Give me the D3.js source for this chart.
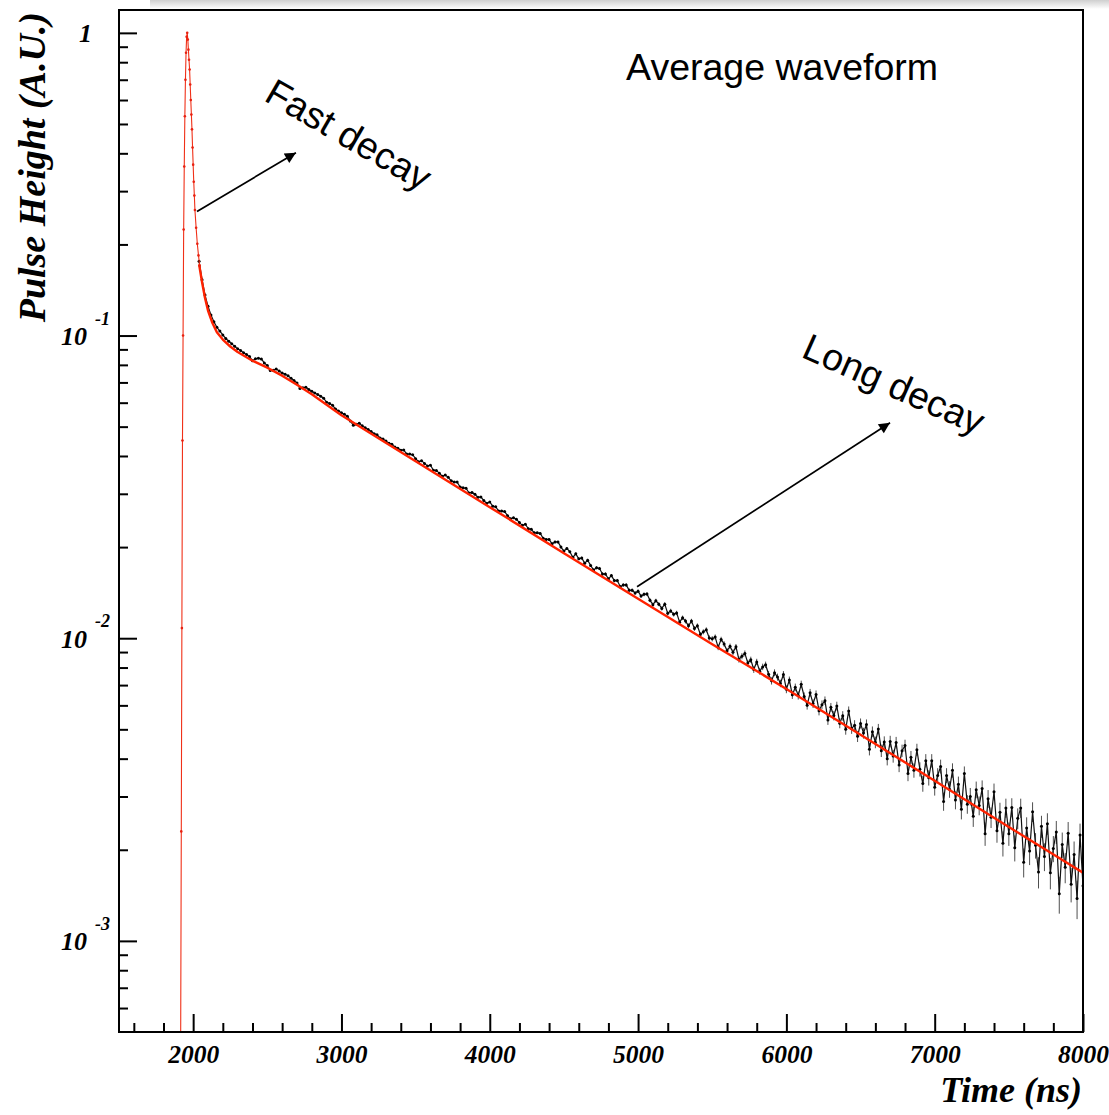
<!DOCTYPE html>
<html>
<head>
<meta charset="utf-8">
<script src="https://cdn.jsdelivr.net/npm/d3@7"></script>
<style>
  html, body { margin: 0; padding: 0; background: #fff; }
  svg { display: block; }
  .root-font { font-family: "Liberation Serif", "Times New Roman", serif; font-weight: bold; font-style: italic; }
  .note { font-family: "Liberation Sans", Arial, sans-serif; }
</style>
</head>
<body>
<div id="viz"></div>
<script>
const WIDTH = 1109;
const HEIGHT = 1115;
const MARGIN = { top: 10, right: 26, bottom: 83, left: 119 };

// axis ranges and ticks
const X_DOMAIN = [1500, 8000];
const Y_DOMAIN = [5e-4, 1.19];
const xMajorTicks = [2000, 3000, 4000, 5000, 6000, 7000, 8000];
const yMajorTicks = [1e-3, 1e-2, 1e-1, 1];
const yTickBases = ['10', '10', '10', '1'];
const yTickExps = ['-3', '-2', '-1', ''];

// rising edge and peak (thin red line with markers)
const peakTimes = [1500, 1916, 1920, 1924, 1928, 1932, 1936, 1940, 1944, 1948, 1952, 1956, 1960,
  1964, 1968, 1972, 1976, 1980, 1984, 1988, 1992, 1996, 2000, 2004, 2008, 2012, 2020, 2028, 2036, 2044];
const peakValues = [0, 0, 0.0023, 0.0108, 0.045, 0.1, 0.224, 0.362, 0.53, 0.70, 0.86, 0.97, 1.0,
  0.95, 0.88, 0.815, 0.757, 0.675, 0.60, 0.537, 0.48, 0.418, 0.367, 0.322, 0.29, 0.26, 0.227, 0.201, 0.184, 0.17];

// averaged waveform samples, 20 ns apart starting at 2040 ns
const dataStart = 2040;
const dataStep = 20;
const dataError = 0.0002; // half height of the error bars
const dataValues = [
  0.176, 0.153, 0.136, 0.125, 0.117, 0.111, 0.1065, 0.1035,
  0.1005, 0.0978, 0.0958, 0.0940, 0.0921, 0.0905, 0.0892, 0.0878, 0.0866, 0.0852,
  0.0826, 0.0838, 0.0842, 0.0836, 0.0812, 0.0796, 0.0766, 0.0768, 0.0775, 0.0764,
  0.0752, 0.0745, 0.0736, 0.0722, 0.0710, 0.0697, 0.0668, 0.0672, 0.0675, 0.0663,
  0.0654, 0.0646, 0.0639, 0.0630, 0.0621, 0.0602, 0.0596, 0.0588, 0.0572, 0.0563,
  0.0556, 0.0549, 0.0541, 0.0522, 0.0505, 0.0509, 0.0513, 0.0503, 0.0496, 0.0489,
  0.0482, 0.0474, 0.0470, 0.0459, 0.0455, 0.0448, 0.0441, 0.0437, 0.0428, 0.0424,
  0.0418, 0.0419, 0.0406, 0.0406, 0.0404, 0.0392, 0.0383, 0.0386, 0.0378, 0.0371,
  0.0373, 0.0359, 0.0358, 0.0351, 0.0343, 0.0346, 0.0340, 0.0331, 0.0328, 0.0328,
  0.0316, 0.0314, 0.0313, 0.0302, 0.0303, 0.0299, 0.0292, 0.0293, 0.0285, 0.0279,
  0.0282, 0.0273, 0.0272, 0.0263, 0.0263, 0.0262, 0.0254, 0.0248, 0.0250, 0.0247,
  0.0241, 0.0236, 0.0238, 0.0230, 0.0229, 0.0223, 0.0223, 0.0222, 0.0214, 0.0212,
  0.0212, 0.0205, 0.0208, 0.0208, 0.0200, 0.0194, 0.0198, 0.0193, 0.0185, 0.0190,
  0.0183, 0.0184, 0.0177, 0.0181, 0.0174, 0.0168, 0.0171, 0.0170, 0.0163, 0.0163,
  0.0157, 0.0161, 0.0155, 0.0155, 0.0148, 0.0150, 0.0150, 0.0144, 0.0144, 0.0141,
  0.0143, 0.01378, 0.01396, 0.01401, 0.01336, 0.01291, 0.0133, 0.01296, 0.01254, 0.01296,
  0.01208, 0.01231, 0.01199, 0.01212, 0.0113, 0.01168, 0.01139, 0.01099, 0.01139, 0.01077,
  0.01099, 0.01029, 0.0105, 0.01066, 0.01002, 0.00996, 0.01009, 0.00933, 0.00991, 0.00957,
  0.00909, 0.0094, 0.00898, 0.00937, 0.00851, 0.00872, 0.00891, 0.00828, 0.00849, 0.00788,
  0.00835, 0.00778, 0.00804, 0.00817, 0.0076, 0.00723, 0.00769, 0.00744, 0.00709, 0.00759,
  0.00678, 0.00727, 0.0065, 0.00688, 0.00647, 0.00704, 0.00642, 0.00601, 0.0066, 0.00608,
  0.00652, 0.00576, 0.00603, 0.00622, 0.00537, 0.00591, 0.00555, 0.00597, 0.00524, 0.00554,
  0.005, 0.00575, 0.00503, 0.00516, 0.00474, 0.00523, 0.00486, 0.00519, 0.0043, 0.00491,
  0.00453, 0.00501, 0.00425, 0.00454, 0.004, 0.00456, 0.00408, 0.00452, 0.00381, 0.00425,
  0.00442, 0.00357, 0.00404, 0.00366, 0.00428, 0.00369, 0.00331, 0.00394, 0.00346, 0.00394,
  0.00322, 0.00352, 0.00377, 0.00289, 0.00352, 0.00317, 0.00366, 0.00292, 0.00329, 0.00272,
  0.00357, 0.00283, 0.003, 0.00258, 0.00316, 0.0028, 0.00319, 0.00226, 0.00295, 0.00256,
  0.00311, 0.00231, 0.00266, 0.0021, 0.00275, 0.00226, 0.00276, 0.00203, 0.00254, 0.00275,
  0.00182, 0.00236, 0.00198, 0.00267, 0.00207, 0.00169, 0.00239, 0.0019, 0.00244, 0.00168,
  0.00202, 0.00229, 0.00143, 0.00208, 0.00175, 0.00227, 0.00154, 0.00193, 0.00138, 0.00224,
  0.00152
];

// fitted curve (thick red)
const fitTimes = [2040, 2060, 2080, 2100, 2130, 2160, 2200, 2250, 2300, 2400, 2500, 2600, 2700,
  2800, 3000, 3500, 4000, 4500, 5000, 5500, 6000, 6500, 7000, 7500, 8000];
const fitValues = [0.172, 0.15, 0.133, 0.121, 0.11, 0.1025, 0.097, 0.092, 0.0882, 0.0826, 0.0783, 0.0737, 0.0688,
  0.064, 0.0545, 0.0384, 0.0271, 0.0191, 0.0135, 0.00955, 0.0068, 0.0048, 0.00338, 0.00238, 0.00168];

// annotations, in data coordinates
const notes = [
  { text: 'Average waveform', t: 4919, v: 0.70, angle: 0 },
  { text: 'Fast decay', t: 2470, v: 0.60, angle: 30 },
  { text: 'Long decay', t: 6092, v: 0.0852, angle: 24 }
];
const arrows = [
  { t0: 2026, v0: 0.257, t1: 2693, v1: 0.402 },
  { t0: 4993, v0: 0.0148, t1: 6699, v1: 0.0515 }
];

const svg = d3.select('#viz').append('svg')
  .attr('width', WIDTH)
  .attr('height', HEIGHT);

// soft shadow strip along the top edge
const defs = svg.append('defs');
const grad = defs.append('linearGradient').attr('id', 'shade').attr('x1', 0).attr('y1', 0).attr('x2', 0).attr('y2', 1);
grad.append('stop').attr('offset', '0%').attr('stop-color', '#cfcfcf');
grad.append('stop').attr('offset', '100%').attr('stop-color', '#ffffff');
svg.append('rect').attr('x', 150).attr('y', 0).attr('width', WIDTH - 150).attr('height', 9).attr('fill', 'url(#shade)');

defs.append('marker')
  .attr('id', 'head')
  .attr('viewBox', '0 0 10 10')
  .attr('refX', 10).attr('refY', 5)
  .attr('markerWidth', 15).attr('markerHeight', 11)
  .attr('markerUnits', 'userSpaceOnUse')
  .attr('orient', 'auto')
  .append('path').attr('d', 'M0,0L10,5L0,10z').attr('fill', '#000');

const x = d3.scaleLinear().domain(X_DOMAIN).range([MARGIN.left, WIDTH - MARGIN.right]);
const y = d3.scaleLog().domain(Y_DOMAIN).range([HEIGHT - MARGIN.bottom, MARGIN.top]).clamp(true);
const yv = v => y(Math.max(v, Y_DOMAIN[0]));

defs.append('clipPath').attr('id', 'plot')
  .append('rect')
  .attr('x', MARGIN.left).attr('y', MARGIN.top)
  .attr('width', WIDTH - MARGIN.left - MARGIN.right)
  .attr('height', HEIGHT - MARGIN.top - MARGIN.bottom);

const line = d3.line().x(d => x(d.t)).y(d => yv(d.v));

const peak = peakTimes.map((t, i) => ({ t, v: peakValues[i] }));
const data = dataValues.map((v, i) => ({ t: dataStart + i * dataStep, v }));
const fit = fitTimes.map((t, i) => ({ t, v: fitValues[i] }));

// data points with error bars
const plot = svg.append('g').attr('clip-path', 'url(#plot)');
plot.append('g').selectAll('line')
  .data(data)
  .join('line')
  .attr('x1', d => x(d.t)).attr('x2', d => x(d.t))
  .attr('y1', d => yv(d.v - dataError)).attr('y2', d => yv(d.v + dataError))
  .attr('stroke', '#222')
  .attr('stroke-width', 0.8);
plot.append('path')
  .datum(data)
  .attr('d', line)
  .attr('fill', 'none')
  .attr('stroke', '#111')
  .attr('stroke-width', 1.2);
plot.append('g').selectAll('circle')
  .data(data)
  .join('circle')
  .attr('cx', d => x(d.t))
  .attr('cy', d => yv(d.v))
  .attr('r', 1.5)
  .attr('fill', '#000');

// fit
plot.append('path')
  .datum(fit)
  .attr('d', line)
  .attr('fill', 'none')
  .attr('stroke', '#ff2200')
  .attr('stroke-width', 2.4)
  .attr('stroke-linejoin', 'round');

// peak
svg.append('path')
  .datum(peak)
  .attr('d', line)
  .attr('fill', 'none')
  .attr('stroke', '#f03018')
  .attr('stroke-width', 1.1);
svg.append('g').selectAll('circle')
  .data(peak.filter(d => d.v > 0))
  .join('circle')
  .attr('cx', d => x(d.t))
  .attr('cy', d => yv(d.v))
  .attr('r', 1.3)
  .attr('fill', '#e82010');

// frame
svg.append('rect')
  .attr('x', MARGIN.left).attr('y', MARGIN.top)
  .attr('width', WIDTH - MARGIN.left - MARGIN.right)
  .attr('height', HEIGHT - MARGIN.top - MARGIN.bottom)
  .attr('fill', 'none')
  .attr('stroke', '#000')
  .attr('stroke-width', 2);

// axes (ticks pointing inward)
const xMinorTicks = d3.range(1600, 8000, 200).filter(v => v % 1000 !== 0);
const yMinorTicks = [];
[1e-4, 1e-3, 1e-2, 1e-1].forEach(dec => {
  for (let k = 2; k <= 9; k += 1) {
    const v = dec * k;
    if (v > Y_DOMAIN[0] && v < Y_DOMAIN[1]) yMinorTicks.push(v);
  }
});

const xAxisG = svg.append('g').attr('transform', `translate(0,${HEIGHT - MARGIN.bottom})`);
xAxisG.append('g').call(d3.axisBottom(x).tickValues(xMinorTicks).tickSizeInner(-9).tickSizeOuter(0).tickFormat(''));
xAxisG.append('g').call(d3.axisBottom(x).tickValues(xMajorTicks).tickSizeInner(-18).tickSizeOuter(0)
  .tickPadding(13).tickFormat(d3.format('d')));
xAxisG.selectAll('.domain').remove();
xAxisG.selectAll('line').attr('stroke', '#000').attr('stroke-width', 2);
xAxisG.selectAll('text')
  .attr('class', 'root-font')
  .attr('font-family', null)
  .style('font-size', '25.5px')
  .attr('fill', '#000');

const yAxisG = svg.append('g').attr('transform', `translate(${MARGIN.left},0)`);
yAxisG.append('g').call(d3.axisLeft(y).tickValues(yMinorTicks).tickSizeInner(-9).tickSizeOuter(0).tickFormat(''));
yAxisG.append('g').call(d3.axisLeft(y).tickValues(yMajorTicks).tickSizeInner(-18).tickSizeOuter(0).tickFormat(''));
yAxisG.selectAll('.domain').remove();
yAxisG.selectAll('line').attr('stroke', '#000').attr('stroke-width', 2);

// y tick labels with superscript exponents
const yLabels = svg.append('g').attr('class', 'root-font');
yMajorTicks.forEach((v, i) => {
  const hasExp = yTickExps[i] !== '';
  yLabels.append('text')
    .attr('x', MARGIN.left - (hasExp ? 32 : 27))
    .attr('y', y(v) + 9.5)
    .attr('text-anchor', 'end')
    .style('font-size', '26px')
    .text(yTickBases[i]);
  if (hasExp) {
    yLabels.append('text')
      .attr('x', MARGIN.left - 24)
      .attr('y', y(v) - 11)
      .style('font-size', '18px')
      .text(yTickExps[i]);
  }
});

// axis titles
svg.append('text')
  .attr('class', 'root-font')
  .attr('transform', `translate(45,${MARGIN.top + 2}) rotate(-90)`)
  .attr('text-anchor', 'end')
  .style('font-size', '38px')
  .text('Pulse Height (A.U.)');

svg.append('text')
  .attr('class', 'root-font')
  .attr('x', WIDTH - MARGIN.right - 1)
  .attr('y', 1102)
  .attr('text-anchor', 'end')
  .style('font-size', '36px')
  .text('Time (ns)');

// annotations
svg.append('g').selectAll('text')
  .data(notes)
  .join('text')
  .attr('class', 'note')
  .attr('transform', d => `translate(${x(d.t)},${y(d.v)}) rotate(${d.angle})`)
  .style('font-size', '37.5px')
  .attr('fill', '#000')
  .text(d => d.text);

svg.append('g').selectAll('line')
  .data(arrows)
  .join('line')
  .attr('x1', d => x(d.t0)).attr('y1', d => y(d.v0))
  .attr('x2', d => x(d.t1)).attr('y2', d => y(d.v1))
  .attr('stroke', '#000')
  .attr('stroke-width', 1.7)
  .attr('marker-end', 'url(#head)');
</script>
</body>
</html>
